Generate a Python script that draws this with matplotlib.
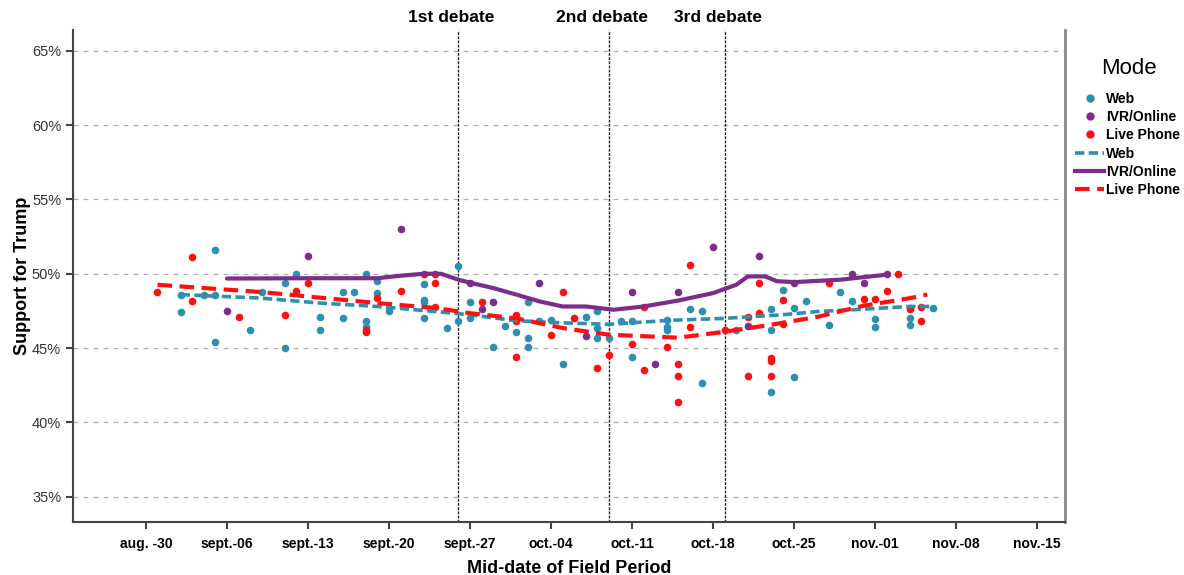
import numpy as np
import matplotlib
matplotlib.use("Agg")
import matplotlib.pyplot as plt
from matplotlib.lines import Line2D

plt.rcParams['font.family'] = ['Liberation Sans', 'DejaVu Sans']

# days counted from Aug 30
tick_days = [0, 7, 14, 21, 28, 35, 42, 49, 56, 63, 70, 77]
tick_labels = ['aug. -30', 'sept.-06', 'sept.-13', 'sept.-20', 'sept.-27', 'oct.-04',
               'oct.-11', 'oct.-18', 'oct.-25', 'nov.-01', 'nov.-08', 'nov.-15']
y_ticks = [35, 40, 45, 50, 55, 60, 65]

debate_days = [27, 40, 50]
debate_names = ['1st debate', '2nd debate', '3rd debate']

# poll results by mode
web_day = [3, 3, 5, 6, 6, 6, 9, 10, 12, 12, 13, 15, 15, 17, 17, 18, 19, 19, 19, 20, 20, 21,
           24, 24, 24, 24, 26, 27, 27, 28, 28, 30, 31, 32, 33, 33, 33, 34, 35, 36, 38, 39,
           39, 39, 40, 41, 42, 42, 45, 45, 45, 47, 48, 48, 51, 54, 54, 54, 55, 56, 56, 57,
           59, 60, 61, 63, 63, 66, 66, 66, 68]
web_pct = [48.6, 47.4, 48.6, 51.6, 48.6, 45.4, 46.2, 48.8, 49.35, 45.0, 50.0, 47.1, 46.2,
           48.8, 47.05, 48.8, 50.0, 46.85, 46.45, 48.7, 49.5, 47.5, 49.3, 48.25, 48.1, 47.05,
           46.35, 50.5, 46.8, 48.1, 47.0, 45.1, 46.5, 46.1, 48.1, 45.7, 45.1, 46.8, 46.9,
           43.9, 47.1, 47.5, 46.35, 45.7, 45.7, 46.8, 46.8, 44.4, 46.9, 46.45, 46.2, 47.6,
           47.5, 42.65, 46.2, 47.6, 46.2, 42.05, 48.9, 47.7, 43.05, 48.2, 46.55, 48.75,
           48.15, 46.95, 46.4, 47.7, 47.0, 46.55, 47.7]

ivr_day = [7, 14, 22, 28, 29, 30, 34, 38, 42, 44, 46, 49, 52, 53, 56, 61, 62, 64]
ivr_pct = [47.5, 51.2, 53.0, 49.4, 47.6, 48.1, 49.4, 45.8, 48.8, 43.9, 48.8, 51.8, 46.5,
           51.2, 49.4, 50.0, 49.4, 50.0]

live_day = [1, 4, 4, 8, 12, 13, 14, 19, 19, 20, 22, 24, 25, 25, 25, 29, 32, 32, 32, 35, 36,
            37, 39, 40, 42, 43, 43, 45, 46, 46, 46, 47, 47, 50, 52, 52, 53, 53, 54, 54, 54,
            55, 55, 59, 62, 63, 64, 65, 66, 67, 67]
live_pct = [48.8, 51.1, 48.2, 47.1, 47.2, 48.85, 49.4, 46.2, 46.05, 48.35, 48.85, 50.0,
            50.0, 49.4, 47.75, 48.1, 47.2, 46.8, 44.4, 45.9, 48.8, 47.05, 43.65, 44.55,
            45.3, 47.75, 43.5, 45.05, 43.95, 43.15, 41.35, 50.6, 46.4, 46.2, 47.1, 43.15,
            49.35, 47.35, 44.3, 44.1, 43.15, 48.25, 46.6, 49.4, 48.3, 48.3, 48.85, 50.0,
            47.6, 47.75, 46.8]

# smoothed trend lines
web_fit_day = [3, 10, 15, 20, 25, 28, 32, 36, 40, 42, 45, 50, 55, 58, 62, 66, 68]
web_fit_pct = [48.6, 48.36, 48.03, 47.8, 47.46, 47.24, 46.84, 46.7, 46.6, 46.7, 46.86,
               47.0, 47.24, 47.46, 47.62, 47.8, 47.8]

ivr_fit_day = [7, 14, 20, 22, 24, 25.5, 27, 28, 30, 32, 34, 36, 38, 40.4, 43, 46, 49, 51,
               52, 53.5, 54.5, 56, 60, 64.1]
ivr_fit_pct = [49.68, 49.7, 49.7, 49.87, 50.0, 50.0, 49.6, 49.4, 49.04, 48.6, 48.14, 47.8,
               47.8, 47.58, 47.8, 48.2, 48.7, 49.26, 49.82, 49.82, 49.5, 49.44, 49.6, 49.95]

live_fit_day = [1, 5, 10, 14, 20, 25, 28, 32, 36, 40, 43, 46, 50, 54, 58, 62, 66, 67.5]
live_fit_pct = [49.26, 49.04, 48.77, 48.47, 48.03, 47.7, 47.35, 47.0, 46.35, 45.9, 45.8,
                45.7, 46.1, 46.57, 47.1, 47.85, 48.36, 48.6]

teal = '#2e8fae'
purple = '#7b2d8c'
red = '#ff1010'

fig = plt.figure(figsize=(11.84, 5.75), dpi=100)
ax = fig.add_axes([73 / 1184, 53 / 575, (1065 - 73) / 1184, (522 - 30) / 575])

ax.set_xlim(-6.3, 79.4)
ax.set_ylim(33.3, 66.4)

for v in y_ticks:
    ax.axhline(v, color='#b0b0b0', lw=0.9, ls=(0, (4, 4)), zorder=0)

for d, name in zip(debate_days, debate_names):
    ax.axvline(d, color='#222222', lw=1.0, ls=(0, (2, 1)), zorder=1)
    ax.text(d - 0.6, 67.27, name, ha='center', va='center', fontsize=12.5,
            fontweight='bold', clip_on=False)

ax.scatter(web_day, web_pct, s=30, color=teal, zorder=3, linewidths=0)
ax.scatter(ivr_day, ivr_pct, s=30, color=purple, zorder=3, linewidths=0)
ax.scatter(live_day, live_pct, s=30, color=red, zorder=3, linewidths=0)

ax.plot(web_fit_day, web_fit_pct, color=teal, lw=2.6, ls=(0, (2.6, 1.2)), zorder=4)
ax.plot(ivr_fit_day, ivr_fit_pct, color=purple, lw=3.0, zorder=4,
        solid_capstyle='round')
ax.plot(live_fit_day, live_fit_pct, color=red, lw=3.0, ls=(0, (3.5, 1.8)), zorder=4)

ax.set_xticks(tick_days)
ax.set_xticklabels(tick_labels, fontsize=10, fontweight='bold')
ax.set_yticks(y_ticks)
ax.set_yticklabels([f'{v}%' for v in y_ticks], fontsize=10.5, color='#333333')
ax.tick_params(axis='both', direction='out', length=5, width=1.5, color='#444444')
ax.tick_params(axis='x', pad=6)

for side in ['left', 'bottom']:
    ax.spines[side].set_color('#444444')
    ax.spines[side].set_linewidth(1.5)
ax.spines['right'].set_color('#888888')
ax.spines['right'].set_linewidth(2)
ax.spines['top'].set_visible(False)

ax.set_xlabel('Mid-date of Field Period', fontsize=13, fontweight='bold', labelpad=6)
ax.set_ylabel('Support for Trump', fontsize=13, fontweight='bold', labelpad=1)

handles = [
    Line2D([], [], ls='none', marker='o', ms=6, color=teal, mew=0),
    Line2D([], [], ls='none', marker='o', ms=6, color=purple, mew=0),
    Line2D([], [], ls='none', marker='o', ms=6, color=red, mew=0),
    Line2D([], [], color=teal, lw=2.6, ls=(0, (2.6, 1.2))),
    Line2D([], [], color=purple, lw=3.0),
    Line2D([], [], color=red, lw=3.0, ls=(0, (3.5, 1.8))),
]
labels = ['Web', 'IVR/Online', 'Live Phone', 'Web', 'IVR/Online', 'Live Phone']
fig.text(1129 / 1184, 1 - 68 / 575, 'Mode', ha='center', va='center', fontsize=16)
leg = fig.legend(handles, labels, loc='upper left',
                 bbox_to_anchor=(1075 / 1184, 1 - 92 / 575), frameon=False,
                 prop={'weight': 'bold', 'size': 10},
                 handlelength=2.1, handletextpad=0.15, labelspacing=0.3,
                 borderpad=0, borderaxespad=0)

fig.savefig('out.png', dpi=100)
